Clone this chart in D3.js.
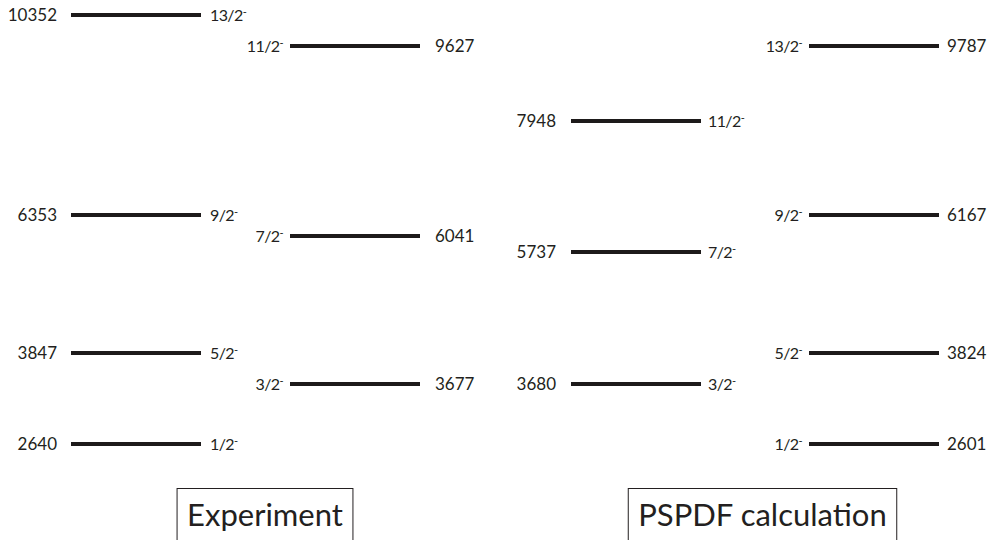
<!DOCTYPE html>
<html>
<head>
<meta charset="utf-8">
<script src="https://cdn.jsdelivr.net/npm/d3@7"></script>
<style>
  body { margin: 0; background: #fff; }
  svg { display: block; }
  text { font-family: Lato, "Open Sans", sans-serif; fill: #231f20; }
</style>
</head>
<body>
<div id="frame"></div>
<script>
// level data (keV), same spin order for both sets
let spins = ["1/2", "3/2", "5/2", "7/2", "9/2", "11/2", "13/2"];
let expEnergy = [2640, 3677, 3847, 6041, 6353, 9627, 10352];
let calcEnergy = [2601, 3680, 3824, 5737, 6167, 7948, 9787];
let panels = ["Experiment", "PSPDF calculation"];

let width = 1001, height = 540;

let svg = d3.select('#frame').append('svg')
    .attr('width', width)
    .attr('height', height);

// the scheme is drawn by hand (not to scale), so the energy axis is piecewise
let y = d3.scaleLinear()
    .domain([2600, 2650, 3670, 3690, 3820, 3850, 5737, 6041, 6160, 6360, 7948, 9600, 9800, 10352])
    .range([444, 444, 384, 384, 353, 353, 252, 236, 215, 215, 121, 46, 46, 15]);

// four columns of level lines
let x = d3.scaleOrdinal()
    .domain(['expA', 'expB', 'calcA', 'calcB'])
    .range([71, 290, 571, 809]);
let lineLen = 130;
let energyGap = { expA: 14, expB: 15, calcA: 15, calcB: 8 };
let spinGap = { expA: 9, expB: 7, calcA: 7, calcB: 7 };

let levels = [];
spins.forEach((s, i) => {
    levels.push({ spin: s, e: expEnergy[i], col: i % 2 === 0 ? 'expA' : 'expB' });
    levels.push({ spin: s, e: calcEnergy[i], col: i % 2 === 0 ? 'calcB' : 'calcA' });
});
let isA = d => d.col.endsWith('A');

let g = svg.selectAll('g.level')
    .data(levels)
    .enter()
    .append('g')
    .attr('class', 'level');

g.append('line')
    .attr('x1', d => x(d.col))
    .attr('x2', d => x(d.col) + lineLen)
    .attr('y1', d => y(d.e))
    .attr('y2', d => y(d.e))
    .style('stroke', '#1d1a1a')
    .style('stroke-width', 4);

// energy label: outside left for A columns, outside right for B columns
g.append('text')
    .attr('x', d => isA(d) ? x(d.col) - energyGap[d.col] : x(d.col) + lineLen + energyGap[d.col])
    .attr('y', d => y(d.e))
    .attr('dy', '0.36em')
    .style('text-anchor', d => isA(d) ? 'end' : 'start')
    .style('font-size', '17px')
    .text(d => d.e);

// spin label with superscript parity
let spin = g.append('text')
    .attr('x', d => isA(d) ? x(d.col) + lineLen + spinGap[d.col] : x(d.col) - spinGap[d.col])
    .attr('y', d => y(d.e))
    .attr('dy', '0.36em')
    .style('text-anchor', d => isA(d) ? 'start' : 'end')
    .style('font-size', '16px')
    .style('letter-spacing', '-0.6px');
spin.append('tspan').text(d => d.spin);
spin.append('tspan')
    .attr('dy', '-0.45em')
    .style('font-size', '11px')
    .text('-');

// panel captions in boxes
let px = d3.scaleOrdinal().domain(panels).range([265, 762.5]);
panels.forEach(p => {
    let t = svg.append('text')
        .attr('x', px(p))
        .attr('y', 526)
        .style('text-anchor', 'middle')
        .style('font-size', '31px')
        .text(p);
    let bb = t.node().getBBox();
    svg.append('rect')
        .attr('x', bb.x - 10)
        .attr('y', 488.5)
        .attr('width', bb.width + 20)
        .attr('height', 70)
        .style('fill', 'none')
        .style('stroke', '#231f20')
        .style('stroke-width', 1);
});
</script>
</body>
</html>
